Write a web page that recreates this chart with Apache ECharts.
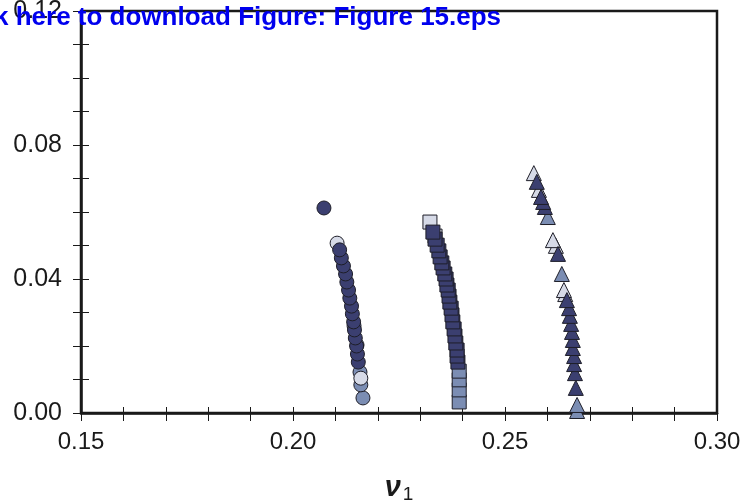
<!DOCTYPE html>
<html><head><meta charset="utf-8">
<script src="https://cdn.jsdelivr.net/npm/echarts@6/dist/echarts.min.js"></script>
<style>html,body{margin:0;padding:0;background:#fff}#c{width:742px;height:503px}</style>
</head><body><div id="c"></div>
<script>
// data [nu1, y]
const circleDark = [[0.2073,0.0612],[0.2110,0.0487],[0.2114,0.0463],[0.2119,0.0439],[0.2124,0.0415],[0.2127,0.0391],[0.2131,0.0367],[0.2134,0.0343],[0.2138,0.0319],[0.2140,0.0296],[0.2143,0.0272],[0.2145,0.0248],[0.2147,0.0224],[0.2150,0.0200],[0.2152,0.0176],[0.2154,0.0152]];
const circleMed = [[0.2144,0.0260],[0.2151,0.0203],[0.2158,0.0122],[0.2160,0.0084],[0.2165,0.0045]];
const circleLight = [[0.2104,0.0507],[0.2160,0.0104]];
const squareDark = [[0.2330,0.0540],[0.2335,0.0519],[0.2340,0.0501],[0.2344,0.0484],[0.2347,0.0466],[0.2351,0.0448],[0.2354,0.0433],[0.2358,0.0415],[0.2361,0.0400],[0.2363,0.0382],[0.2366,0.0367],[0.2368,0.0349],[0.2370,0.0331],[0.2373,0.0313],[0.2375,0.0293],[0.2377,0.0272],[0.2380,0.0251],[0.2382,0.0230],[0.2384,0.0209],[0.2387,0.0188],[0.2387,0.0170],[0.2389,0.0152]];
const squareMed = [[0.2392,0.0125],[0.2392,0.0099],[0.2392,0.0069],[0.2392,0.0033]];
const squareLight = [[0.2323,0.0570],[0.2335,0.0528]];
const triDark = [[0.2575,0.0690],[0.2585,0.0645],[0.2590,0.0630],[0.2594,0.0615],[0.2625,0.0475],[0.2646,0.0337],[0.2651,0.0313],[0.2653,0.0290],[0.2656,0.0266],[0.2658,0.0242],[0.2660,0.0218],[0.2660,0.0194],[0.2663,0.0170],[0.2663,0.0146],[0.2665,0.0119],[0.2667,0.0075]];
const triMed = [[0.2601,0.0585],[0.2634,0.0415],[0.2670,0.0024],[0.2670,0.0006]];
const triLight = [[0.2568,0.0716],[0.2580,0.0666],[0.2613,0.0516],[0.2620,0.0499],[0.2639,0.0367],[0.2642,0.0355]];
const xTickLabels = ['0.15','0.20','0.25','0.30'];
const yTickLabels = ['0.00','0.04','0.08','0.12'];

const DARK='#3b3f70', MED='#7b8db3', LIGHT='#d6dae7';
function fmt(list){return v=>{const s=v.toFixed(2);return list.includes(s)?s:'';};}
function ser(data, symbol, color, size){
  return {type:'scatter', data:data.slice().reverse(), symbol, symbolSize:size,
    itemStyle:{color, borderColor:'#1e1e28', borderWidth:1, opacity:1}, z:3,
    emphasis:{disabled:true}};
}
const chart = echarts.init(document.getElementById('c'));
const baseX = {type:'value', min:0.15, max:0.30, interval:0.01, position:'bottom'};
const baseY = {type:'value', min:0, max:0.12, interval:0.01, position:'left'};
const FONT='"Liberation Sans", Arial, sans-serif';
chart.setOption({
  animation:false,
  grid:{left:81, right:25, top:11, bottom:90, outerBoundsMode:'none', containLabel:false, show:true, borderColor:'#1a1a1a', borderWidth:2.5, backgroundColor:'transparent'},
  xAxis:[
    Object.assign({}, baseX, {
      axisLine:{show:true, onZero:false, lineStyle:{color:'#1a1a1a', width:2.5}},
      axisTick:{show:true, inside:false, length:8, lineStyle:{color:'#1a1a1a', width:1}},
      axisLabel:{formatter:fmt(xTickLabels), margin:17, fontSize:24, color:'#1a1a1a', fontFamily:FONT, showMinLabel:true, showMaxLabel:true},
      splitLine:{show:false},
      name:'{n|ν}{s|1}', nameLocation:'middle', nameGap:58,
      nameTextStyle:{rich:{n:{fontSize:29, fontWeight:'bold', fontStyle:'italic', fontFamily:FONT, color:'#1a1a1a'}, s:{fontSize:19, fontFamily:FONT, color:'#1a1a1a', padding:[14,0,0,2]}}}
    }),
    Object.assign({}, baseX, {
      axisLine:{show:false, onZero:false},
      axisTick:{show:true, inside:true, length:6, lineStyle:{color:'#1a1a1a', width:1}},
      axisLabel:{show:false}, splitLine:{show:false}
    })
  ],
  yAxis:[
    Object.assign({}, baseY, {
      axisLine:{show:true, onZero:false, lineStyle:{color:'#1a1a1a', width:2.5}},
      axisTick:{show:true, inside:false, length:8, lineStyle:{color:'#1a1a1a', width:1}},
      axisLabel:{formatter:fmt(yTickLabels), margin:19, fontSize:25, color:'#1a1a1a', fontFamily:FONT, showMinLabel:true, showMaxLabel:true},
      splitLine:{show:false}
    }),
    Object.assign({}, baseY, {
      axisLine:{show:false, onZero:false},
      axisTick:{show:true, inside:true, length:8, lineStyle:{color:'#1a1a1a', width:1}},
      axisLabel:{show:false}, splitLine:{show:false}
    })
  ],
  series:[
    ser(circleMed,'circle',MED,14), ser(circleLight,'circle',LIGHT,14), ser(circleDark,'circle',DARK,14),
    ser(squareMed,'rect',MED,14), ser(squareLight,'rect',LIGHT,14), ser(squareDark,'rect',DARK,14),
    ser(triMed,'triangle',MED,15), ser(triLight,'triangle',LIGHT,15), ser(triDark,'triangle',DARK,15)
  ],
  graphic:[{type:'text', left:-6, top:5, z:100, style:{text:'k here to download Figure: Figure 15.eps', fill:'#0000ee', font:'bold 26px ' + FONT}}]
});
</script></body></html>
